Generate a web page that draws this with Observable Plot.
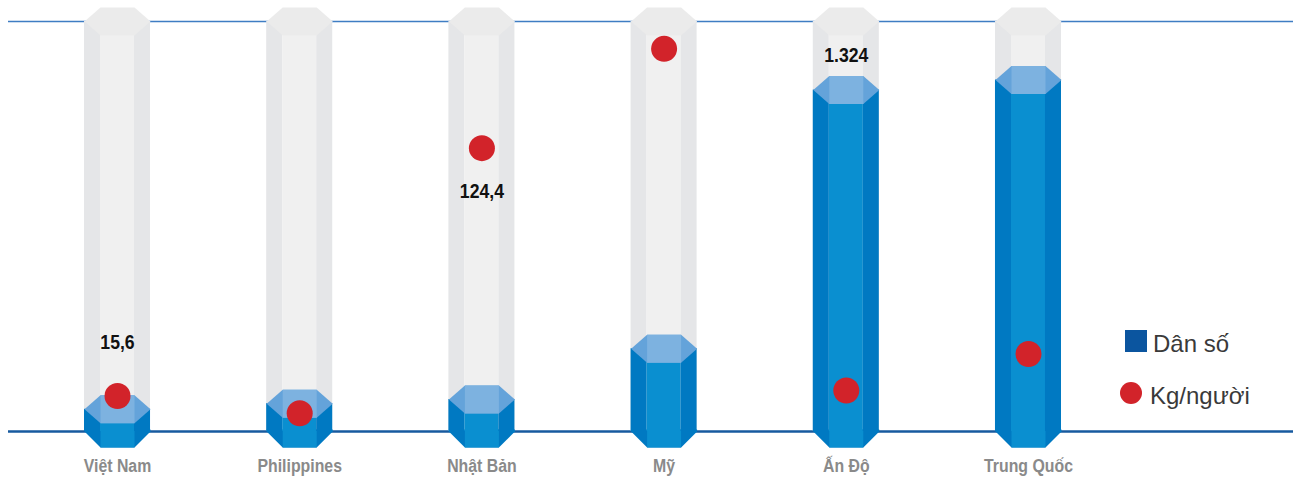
<!DOCTYPE html>
<html>
<head>
<meta charset="utf-8">
<script src="https://cdn.jsdelivr.net/npm/d3@7"></script>
<script src="https://cdn.jsdelivr.net/npm/@observablehq/plot@0.6"></script>
<style>
  body { margin: 0; background: #fff; }
  #wrap { position: relative; width: 1293px; height: 479px; overflow: hidden; }
  #chart svg { display: block; }
  .leg-sw { position: absolute; width: 22px; height: 22px; }
  .leg-tx { position: absolute; font-family: "Liberation Sans", Arial, Helvetica, sans-serif; font-size: 24px; line-height: 24px; color: #3a3a3a; white-space: nowrap; }
</style>
</head>
<body>
<div id="wrap">
  <div id="chart"></div>
  <div id="legend"></div>
</div>
<script>
// ---- Data ----
const countries = ["Việt Nam", "Philippines", "Nhật Bản", "Mỹ", "Ấn Độ", "Trung Quốc"];
const population = [86, 108, 124, 321, 1324, 1363];      // Dân số (triệu người)
const kgPerPerson = [15.6, 8, 124.4, 168, 18, 34];       // Kg/người
const populationMax = 1590;                              // top of the tube
const kgMax = 180;                                       // top of the tube
const kgLabelAbove = ["Việt Nam"];
const kgLabelBelow = ["Nhật Bản"];
const popLabel = ["Ấn Độ"];
const legendLabels = ["Dân số", "Kg/người"];

// ---- Build table ----
const data = countries.map((name, i) => ({name, pop: population[i], kg: kgPerPerson[i]}));
const fmt = d3.formatLocale({decimal: ",", thousands: ".", grouping: [3], currency: ["", ""]}).format(",");

// ---- Colours ----
const C = {
  tubeSide: "#e5e6e8", tubeFront: "#f0f0f0", tubeCap: "#ebebeb",
  blueSide: "#0079c2", blueFront: "#0a8fd0", capSide: "#64a3da", capFront: "#7db2e0",
  red: "#d2232a", gridTop: "#3f7dc3", gridBase: "#175a9f", label: "#8a8a8a",
  legendBlue: "#0b559f"
};

// ---- Custom hexagon symbols (prism caps / bases) ----
const poly = pts => ({draw(ctx) {
  ctx.moveTo(pts[0][0], pts[0][1]);
  for (let k = 1; k < pts.length; k++) ctx.lineTo(pts[k][0], pts[k][1]);
  ctx.closePath();
}});
const W = 33, F = 17, H = 14, B = 16;
const capHex = poly([[-F, -H], [F, -H], [W, 0], [F, H], [-F, H], [-W, 0]]);
const capMid = poly([[-F, -H], [F, -H], [F, H], [-F, H]]);
const baseHex = poly([[-W, -2], [W, -2], [W, 0], [F, B], [-F, B], [-W, 0]]);
const baseMid = poly([[-F, -2], [F, -2], [F, B], [-F, B]]);

const yPop = d => d.pop / populationMax;
const yKg = d => d.kg / kgMax;
const textFont = '"Liberation Sans", Arial, Helvetica, sans-serif';

const chart = Plot.plot({
  width: 1293,
  height: 479,
  marginLeft: 8,
  marginRight: 0,
  marginTop: 21,
  marginBottom: 48,
  x: {type: "band", domain: countries, range: [84, 1061], paddingInner: 0.6376, paddingOuter: 0, round: false, axis: null},
  y: {domain: [0, 1], axis: null},
  style: {background: "#fff", overflow: "visible"},
  marks: [
    Plot.ruleY([1], {stroke: C.gridTop, strokeWidth: 1.6}),
    Plot.ruleY([0], {stroke: C.gridBase, strokeWidth: 2.4}),
    // grey tubes (full scale)
    Plot.barY(data, {x: "name", y1: 0, y2: 1, fill: C.tubeSide, insetRight: 50}),
    Plot.barY(data, {x: "name", y1: 0, y2: 1, fill: C.tubeFront, insetLeft: 16, insetRight: 16}),
    Plot.barY(data, {x: "name", y1: 0, y2: 1, fill: C.tubeSide, insetLeft: 50}),
    Plot.dot(data, {x: "name", y: 1, symbol: capHex, r: 10, fill: C.tubeCap, stroke: null}),
    // blue prisms (population)
    Plot.dot(data, {x: "name", y: 0, symbol: baseHex, r: 10, fill: C.blueSide, stroke: null}),
    Plot.dot(data, {x: "name", y: 0, symbol: baseMid, r: 10, fill: C.blueFront, stroke: null}),
    Plot.barY(data, {x: "name", y1: 0, y2: yPop, fill: C.blueSide, insetRight: 50}),
    Plot.barY(data, {x: "name", y1: 0, y2: yPop, fill: C.blueFront, insetLeft: 16, insetRight: 16}),
    Plot.barY(data, {x: "name", y1: 0, y2: yPop, fill: C.blueSide, insetLeft: 50}),
    Plot.dot(data, {x: "name", y: yPop, symbol: capHex, r: 10, fill: C.capSide, stroke: null}),
    Plot.dot(data, {x: "name", y: yPop, symbol: capMid, r: 10, fill: C.capFront, stroke: null}),
    // red dots (kg per person)
    Plot.dot(data, {x: "name", y: yKg, r: 13, fill: C.red, stroke: null}),
    // value labels
    Plot.text(data.filter(d => kgLabelAbove.includes(d.name)), {x: "name", y: yKg, dy: -53, text: d => fmt(d.kg),
      fontSize: 20, fontWeight: "bold", fontFamily: textFont, fill: "#111"}),
    Plot.text(data.filter(d => kgLabelBelow.includes(d.name)), {x: "name", y: yKg, dy: 43, text: d => fmt(d.kg),
      fontSize: 20, fontWeight: "bold", fontFamily: textFont, fill: "#111"}),
    Plot.text(data.filter(d => popLabel.includes(d.name)), {x: "name", y: yPop, dy: -34, text: d => fmt(d.pop),
      fontSize: 20, fontWeight: "bold", fontFamily: textFont, fill: "#111"}),
    // category labels
    Plot.text(data, {x: "name", y: 0, dy: 35, text: "name", fontSize: 18, fontWeight: "bold", fontFamily: textFont, fill: C.label})
  ]
});
document.getElementById("chart").appendChild(chart);

// condensed look: narrow the bold labels horizontally (no condensed face installed)
chart.querySelectorAll("text").forEach(t => {
  const len = t.getComputedTextLength();
  if (len > 0) {
    t.setAttribute("textLength", (len * 0.88).toFixed(1));
    t.setAttribute("lengthAdjust", "spacingAndGlyphs");
  }
});

// ---- Legend ----
const legend = document.getElementById("legend");
legend.innerHTML =
  `<div class="leg-sw" style="left:1125px;top:330px;background:${C.legendBlue}"></div>` +
  `<div class="leg-tx" style="left:1153px;top:332px">${legendLabels[0]}</div>` +
  `<div class="leg-sw" style="left:1120px;top:382px;border-radius:50%;background:${C.red}"></div>` +
  `<div class="leg-tx" style="left:1150px;top:384px">${legendLabels[1]}</div>`;
</script>
</body>
</html>
